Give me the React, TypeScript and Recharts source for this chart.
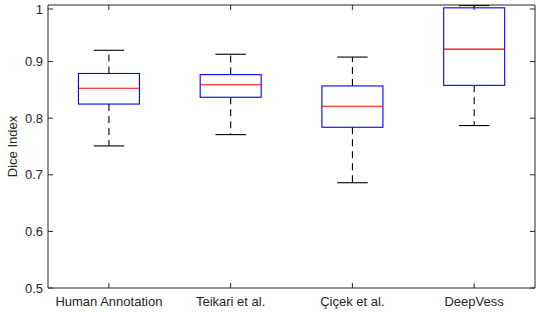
import React from 'react';
import { ComposedChart, Bar, XAxis, YAxis } from 'recharts';

const categories = ['Human Annotation', 'Teikari et al.', 'Çiçek et al.', 'DeepVess'];
const lowerWhisker = [0.751, 0.771, 0.686, 0.787];
const q1 = [0.825, 0.837, 0.784, 0.858];
const median = [0.853, 0.859, 0.821, 0.922];
const q3 = [0.879, 0.877, 0.857, 0.995];
const upperWhisker = [0.92, 0.913, 0.908, 0.999];
const yTicks = [0.5, 0.6, 0.7, 0.8, 0.9, 1];

const data = categories.map((name, i) => ({
  name,
  range: [lowerWhisker[i], upperWhisker[i]],
  low: lowerWhisker[i],
  q1: q1[i],
  median: median[i],
  q3: q3[i],
  high: upperWhisker[i],
}));

const AX = '#262626';
const FONT = '"Liberation Sans", Arial, sans-serif';
const FS = 13;

const BoxShape = (props: any) => {
  const { x, y, width, height, payload } = props;
  const top = Math.min(y, y + height);
  const h = Math.abs(height);
  const { low, high } = payload;
  const py = (v: number) => top + ((high - v) / (high - low)) * h;
  const cx = x + width / 2;
  const capW = width / 4;
  return (
    <g>
      <line x1={cx} x2={cx} y1={py(payload.q3)} y2={py(high)} stroke="#000" strokeWidth={1.1} strokeDasharray="7 5" />
      <line x1={cx} x2={cx} y1={py(payload.q1)} y2={py(low)} stroke="#000" strokeWidth={1.1} strokeDasharray="7 5" />
      <line x1={cx - capW} x2={cx + capW} y1={py(high)} y2={py(high)} stroke="#000" strokeWidth={1.1} />
      <line x1={cx - capW} x2={cx + capW} y1={py(low)} y2={py(low)} stroke="#000" strokeWidth={1.1} />
      <rect x={x} y={py(payload.q3)} width={width} height={py(payload.q1) - py(payload.q3)} fill="none" stroke="#0000ff" strokeWidth={1.1} />
      <line x1={x} x2={x + width} y1={py(payload.median)} y2={py(payload.median)} stroke="#ff0000" strokeWidth={1.1} />
    </g>
  );
};

const BottomTick = (props: any) => {
  const { x, y, payload } = props;
  return (
    <g>
      <line x1={x} x2={x} y1={y} y2={y - 5} stroke={AX} />
      <text x={x} y={y + 18} textAnchor="middle" fill={AX} fontSize={FS} fontFamily={FONT}>
        {payload.value}
      </text>
    </g>
  );
};

const TopTick = (props: any) => {
  const { x, y } = props;
  return <line x1={x} x2={x} y1={y} y2={y + 5} stroke={AX} />;
};

const LeftTick = (props: any) => {
  const { x, y, payload } = props;
  return (
    <g>
      <line x1={x} x2={x + 5} y1={y} y2={y} stroke={AX} />
      <text x={x - 5} y={y + 4.5} textAnchor="end" fill={AX} fontSize={FS} fontFamily={FONT}>
        {String(payload.value)}
      </text>
    </g>
  );
};

const RightTick = (props: any) => {
  const { x, y } = props;
  return <line x1={x} x2={x - 5} y1={y} y2={y} stroke={AX} />;
};

const YLabel = (props: any) => {
  const vb = props.viewBox || {};
  const cx = (vb.x ?? 0) + 12;
  const cy = (vb.y ?? 0) + (vb.height ?? 0) / 2;
  return (
    <text x={cx} y={cy} transform={`rotate(-90 ${cx} ${cy})`} textAnchor="middle" dominantBaseline="central" fill={AX} fontSize={FS} fontFamily={FONT}>
      Dice Index
    </text>
  );
};

export default function App() {
  return (
    <div style={{ position: 'absolute', left: 0, top: 0, width: 540, height: 312, background: '#fff' }}>
      <ComposedChart width={540} height={312} data={data} margin={{ top: 4, right: 0, bottom: 0, left: 0 }} barCategoryGap="25%">
        <XAxis xAxisId="bottom" dataKey="name" orientation="bottom" height={24} tickSize={0} tickMargin={0} tick={<BottomTick />} axisLine={{ stroke: AX }} interval={0} />
        <XAxis xAxisId="top" dataKey="name" orientation="top" height={1} tickSize={0} tickMargin={0} tick={<TopTick />} axisLine={{ stroke: AX }} interval={0} />
        <YAxis yAxisId="left" orientation="left" width={48} domain={[0.5, 1]} ticks={yTicks} type="number" allowDataOverflow tickSize={0} tickMargin={0} tick={<LeftTick />} axisLine={{ stroke: AX }} label={<YLabel />} />
        <YAxis yAxisId="right" orientation="right" width={5} domain={[0.5, 1]} ticks={yTicks} type="number" allowDataOverflow tickSize={0} tickMargin={0} tick={<RightTick />} axisLine={{ stroke: AX }} />
        <Bar xAxisId="bottom" yAxisId="left" dataKey="range" shape={<BoxShape />} isAnimationActive={false} />
      </ComposedChart>
    </div>
  );
}
